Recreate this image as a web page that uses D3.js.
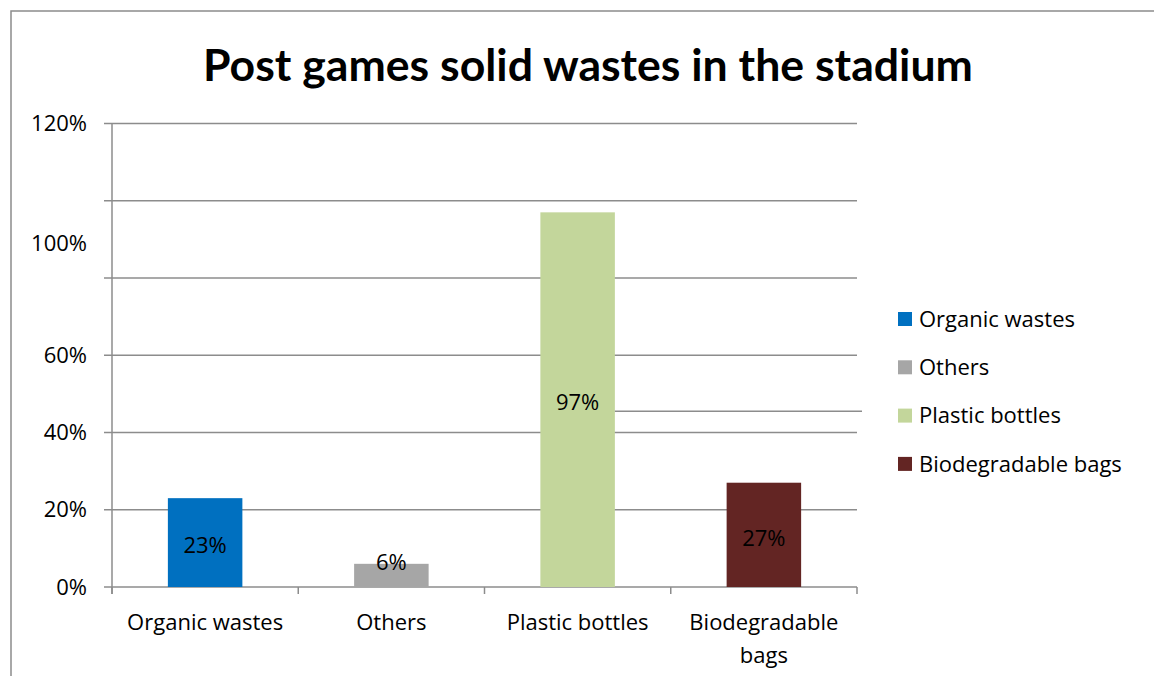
<!DOCTYPE html>
<html>
<head>
<meta charset="utf-8">
<script src="https://cdn.jsdelivr.net/npm/d3@7"></script>
<style>
  html, body { margin: 0; padding: 0; background: #fff; }
  svg { display: block; font-family: "Open Sans", Lato, sans-serif; }
</style>
</head>
<body>
<svg id="chart" width="1154" height="676"></svg>
<script>
// Survey of solid wastes collected after games
const categories = ["Organic wastes", "Others", "Plastic bottles", "Biodegradable bags"];
const values = [23, 6, 97, 27];
const colors = ["#0070C0", "#A6A6A6", "#C3D69B", "#632523"];
const gridValues = [0, 20, 40, 60, 80, 100, 120];
// axis labels as printed, with the value each one sits at
const tickLabels = ["0%", "20%", "40%", "60%", "100%", "120%"];
const tickLabelValues = [0, 20, 40, 60, 89, 120];
// a stray horizontal rule to the right of the tallest bar
const strayRuleValue = 45.5;
const title = "Post games solid wastes in the stadium";

const svg = d3.select("#chart");
const W = 1154, H = 676;
const plot = { left: 112, right: 857, top: 123.5, bottom: 587 };
const FS = 22;

// chart frame (extends past the right and bottom edges)
svg.append("rect")
  .attr("x", 11).attr("y", 11)
  .attr("width", W + 40).attr("height", H + 40)
  .attr("fill", "none").attr("stroke", "#8c8c8c").attr("stroke-width", 1.5);

const x = d3.scaleBand().domain(categories).range([plot.left, plot.right]).paddingInner(0.6).paddingOuter(0.3);
const xEdges = d3.scaleBand().domain(categories).range([plot.left, plot.right]);
const y = d3.scaleLinear().domain([0, 120]).range([plot.bottom, plot.top]);

const gridColor = "#8c8c8c";

// horizontal gridlines with left tick stubs
svg.append("g").selectAll("line").data(gridValues).join("line")
  .attr("x1", plot.left - 8).attr("x2", plot.right)
  .attr("y1", d => y(d)).attr("y2", d => y(d))
  .attr("stroke", gridColor).attr("stroke-width", 1.5);

// y axis line
svg.append("line")
  .attr("x1", plot.left).attr("x2", plot.left)
  .attr("y1", y(120)).attr("y2", plot.bottom + 7)
  .attr("stroke", gridColor).attr("stroke-width", 1.5);

// category tick marks below the baseline
const edges = categories.map(c => xEdges(c)).concat([plot.right]);
svg.append("g").selectAll("line").data(edges).join("line")
  .attr("x1", d => d).attr("x2", d => d)
  .attr("y1", plot.bottom).attr("y2", plot.bottom + 7)
  .attr("stroke", gridColor).attr("stroke-width", 1.5);

// y tick labels
svg.append("g").selectAll("text").data(tickLabels).join("text")
  .attr("x", plot.left - 25)
  .attr("y", (d, i) => y(tickLabelValues[i]))
  .attr("dy", "0.35em")
  .attr("text-anchor", "end")
  .attr("font-size", FS)
  .attr("fill", "#000")
  .text(d => d);

// bars
svg.append("g").selectAll("rect").data(values).join("rect")
  .attr("x", (d, i) => x(categories[i]))
  .attr("y", d => y(d))
  .attr("width", x.bandwidth())
  .attr("height", d => y(0) - y(d))
  .attr("fill", (d, i) => colors[i]);

// stray rule
const plasticIdx = categories.indexOf("Plastic bottles");
svg.append("line")
  .attr("x1", x(categories[plasticIdx]) + x.bandwidth())
  .attr("x2", plot.right + 5)
  .attr("y1", y(strayRuleValue)).attr("y2", y(strayRuleValue))
  .attr("stroke", gridColor).attr("stroke-width", 1.5);

// value labels
svg.append("g").selectAll("text").data(values).join("text")
  .attr("x", (d, i) => x(categories[i]) + x.bandwidth() / 2)
  .attr("y", d => d < 10 ? y(d) - 2 : y(d / 2) + 3)
  .attr("dy", "0.35em")
  .attr("text-anchor", "middle")
  .attr("font-size", FS)
  .attr("fill", "#000")
  .text(d => d + "%");

// category labels (wrapped)
const wrapped = { "Biodegradable bags": ["Biodegradable", "bags"] };
const catG = svg.append("g").selectAll("text").data(categories).join("text")
  .attr("x", d => xEdges(d) + xEdges.bandwidth() / 2)
  .attr("y", 622)
  .attr("text-anchor", "middle")
  .attr("font-size", FS)
  .attr("fill", "#000");
catG.each(function(d) {
  const lines = wrapped[d] || [d];
  d3.select(this).selectAll("tspan").data(lines).join("tspan")
    .attr("x", xEdges(d) + xEdges.bandwidth() / 2)
    .attr("dy", (l, i) => i === 0 ? "0.35em" : "1.5em")
    .text(l => l);
});

// legend
const legend = svg.append("g").selectAll("g").data(categories).join("g")
  .attr("transform", (d, i) => `translate(898, ${319 + i * 48.3})`);
legend.append("rect")
  .attr("x", 0).attr("y", -7).attr("width", 14).attr("height", 14)
  .attr("fill", (d, i) => colors[i]);
legend.append("text")
  .attr("x", 21).attr("y", 0).attr("dy", "0.35em")
  .attr("font-size", FS).attr("fill", "#000")
  .text(d => d);

// title
const t = svg.append("text")
  .attr("x", 588).attr("y", 65)
  .attr("dy", "0.35em")
  .attr("text-anchor", "middle")
  .attr("font-family", "Lato, 'Open Sans', sans-serif")
  .attr("font-size", 40).attr("font-weight", "bold")
  .attr("fill", "#000")
  .text(title);
const tw = t.node().getComputedTextLength();
t.attr("font-size", 40 * 770 / tw);
</script>
</body>
</html>
